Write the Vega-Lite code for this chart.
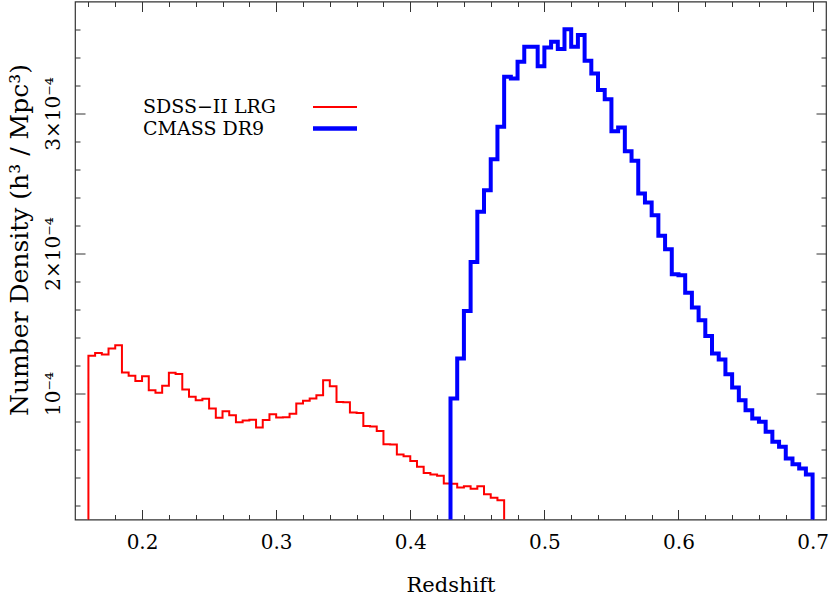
{
  "$schema": "https://vega.github.io/schema/vega-lite/v6.json",
  "width": 751,
  "height": 518,
  "autosize": "none",
  "padding": {"left": 75, "top": 1.5, "right": 4, "bottom": 75.5},
  "background": "white",
  "config": {
    "view": {"stroke": "#333", "strokeWidth": 1.2},
    "axis": {
      "domain": false,
      "grid": false,
      "tickColor": "#333",
      "tickWidth": 1,
      "labelFont": "DejaVu Serif",
      "titleFont": "DejaVu Serif",
      "labelColor": "#000",
      "titleColor": "#000",
      "titleFontWeight": "normal"
    },
    "legend": {
      "orient": "none", "title": null, "symbolType": "stroke", "symbolSize": 1936, "padding": 0,
      "labelFont": "DejaVu Serif", "labelFontSize": 19, "labelColor": "#000", "labelLimit": 400
    }
  },
  "data": {
    "values": [
      {"survey": "SDSS−II LRG", "z": 0.16, "density": 0},
      {"survey": "SDSS−II LRG", "z": 0.160, "density": 1.269e-4},
      {"survey": "SDSS−II LRG", "z": 0.165, "density": 1.290e-4},
      {"survey": "SDSS−II LRG", "z": 0.170, "density": 1.279e-4},
      {"survey": "SDSS−II LRG", "z": 0.175, "density": 1.321e-4},
      {"survey": "SDSS−II LRG", "z": 0.180, "density": 1.345e-4},
      {"survey": "SDSS−II LRG", "z": 0.185, "density": 1.150e-4},
      {"survey": "SDSS−II LRG", "z": 0.190, "density": 1.126e-4},
      {"survey": "SDSS−II LRG", "z": 0.195, "density": 1.090e-4},
      {"survey": "SDSS−II LRG", "z": 0.200, "density": 1.124e-4},
      {"survey": "SDSS−II LRG", "z": 0.205, "density": 1.024e-4},
      {"survey": "SDSS−II LRG", "z": 0.210, "density": 1.005e-4},
      {"survey": "SDSS−II LRG", "z": 0.215, "density": 1.055e-4},
      {"survey": "SDSS−II LRG", "z": 0.220, "density": 1.148e-4},
      {"survey": "SDSS−II LRG", "z": 0.225, "density": 1.140e-4},
      {"survey": "SDSS−II LRG", "z": 0.230, "density": 1.029e-4},
      {"survey": "SDSS−II LRG", "z": 0.235, "density": 0.976e-4},
      {"survey": "SDSS−II LRG", "z": 0.240, "density": 0.952e-4},
      {"survey": "SDSS−II LRG", "z": 0.245, "density": 0.962e-4},
      {"survey": "SDSS−II LRG", "z": 0.250, "density": 0.893e-4},
      {"survey": "SDSS−II LRG", "z": 0.255, "density": 0.826e-4},
      {"survey": "SDSS−II LRG", "z": 0.260, "density": 0.874e-4},
      {"survey": "SDSS−II LRG", "z": 0.265, "density": 0.845e-4},
      {"survey": "SDSS−II LRG", "z": 0.270, "density": 0.795e-4},
      {"survey": "SDSS−II LRG", "z": 0.275, "density": 0.807e-4},
      {"survey": "SDSS−II LRG", "z": 0.280, "density": 0.812e-4},
      {"survey": "SDSS−II LRG", "z": 0.285, "density": 0.757e-4},
      {"survey": "SDSS−II LRG", "z": 0.290, "density": 0.810e-4},
      {"survey": "SDSS−II LRG", "z": 0.295, "density": 0.852e-4},
      {"survey": "SDSS−II LRG", "z": 0.300, "density": 0.829e-4},
      {"survey": "SDSS−II LRG", "z": 0.305, "density": 0.830e-4},
      {"survey": "SDSS−II LRG", "z": 0.310, "density": 0.855e-4},
      {"survey": "SDSS−II LRG", "z": 0.315, "density": 0.929e-4},
      {"survey": "SDSS−II LRG", "z": 0.320, "density": 0.948e-4},
      {"survey": "SDSS−II LRG", "z": 0.325, "density": 0.964e-4},
      {"survey": "SDSS−II LRG", "z": 0.330, "density": 0.988e-4},
      {"survey": "SDSS−II LRG", "z": 0.335, "density": 1.095e-4},
      {"survey": "SDSS−II LRG", "z": 0.340, "density": 1.052e-4},
      {"survey": "SDSS−II LRG", "z": 0.345, "density": 0.940e-4},
      {"survey": "SDSS−II LRG", "z": 0.350, "density": 0.938e-4},
      {"survey": "SDSS−II LRG", "z": 0.355, "density": 0.864e-4},
      {"survey": "SDSS−II LRG", "z": 0.360, "density": 0.860e-4},
      {"survey": "SDSS−II LRG", "z": 0.365, "density": 0.767e-4},
      {"survey": "SDSS−II LRG", "z": 0.370, "density": 0.764e-4},
      {"survey": "SDSS−II LRG", "z": 0.375, "density": 0.733e-4},
      {"survey": "SDSS−II LRG", "z": 0.380, "density": 0.638e-4},
      {"survey": "SDSS−II LRG", "z": 0.385, "density": 0.635e-4},
      {"survey": "SDSS−II LRG", "z": 0.390, "density": 0.564e-4},
      {"survey": "SDSS−II LRG", "z": 0.395, "density": 0.552e-4},
      {"survey": "SDSS−II LRG", "z": 0.400, "density": 0.517e-4},
      {"survey": "SDSS−II LRG", "z": 0.405, "density": 0.476e-4},
      {"survey": "SDSS−II LRG", "z": 0.410, "density": 0.433e-4},
      {"survey": "SDSS−II LRG", "z": 0.415, "density": 0.421e-4},
      {"survey": "SDSS−II LRG", "z": 0.420, "density": 0.412e-4},
      {"survey": "SDSS−II LRG", "z": 0.425, "density": 0.357e-4},
      {"survey": "SDSS−II LRG", "z": 0.430, "density": 0.355e-4},
      {"survey": "SDSS−II LRG", "z": 0.435, "density": 0.329e-4},
      {"survey": "SDSS−II LRG", "z": 0.440, "density": 0.338e-4},
      {"survey": "SDSS−II LRG", "z": 0.445, "density": 0.319e-4},
      {"survey": "SDSS−II LRG", "z": 0.450, "density": 0.338e-4},
      {"survey": "SDSS−II LRG", "z": 0.455, "density": 0.281e-4},
      {"survey": "SDSS−II LRG", "z": 0.460, "density": 0.255e-4},
      {"survey": "SDSS−II LRG", "z": 0.465, "density": 0.238e-4},
      {"survey": "SDSS−II LRG", "z": 0.470, "density": 0},
      {"survey": "CMASS DR9", "z": 0.43, "density": 0},
      {"survey": "CMASS DR9", "z": 0.430, "density": 0.964e-4},
      {"survey": "CMASS DR9", "z": 0.435, "density": 1.250e-4},
      {"survey": "CMASS DR9", "z": 0.440, "density": 1.590e-4},
      {"survey": "CMASS DR9", "z": 0.445, "density": 1.940e-4},
      {"survey": "CMASS DR9", "z": 0.450, "density": 2.298e-4},
      {"survey": "CMASS DR9", "z": 0.455, "density": 2.452e-4},
      {"survey": "CMASS DR9", "z": 0.460, "density": 2.674e-4},
      {"survey": "CMASS DR9", "z": 0.465, "density": 2.905e-4},
      {"survey": "CMASS DR9", "z": 0.470, "density": 3.262e-4},
      {"survey": "CMASS DR9", "z": 0.475, "density": 3.250e-4},
      {"survey": "CMASS DR9", "z": 0.480, "density": 3.369e-4},
      {"survey": "CMASS DR9", "z": 0.485, "density": 3.476e-4},
      {"survey": "CMASS DR9", "z": 0.490, "density": 3.476e-4},
      {"survey": "CMASS DR9", "z": 0.495, "density": 3.338e-4},
      {"survey": "CMASS DR9", "z": 0.500, "density": 3.471e-4},
      {"survey": "CMASS DR9", "z": 0.505, "density": 3.512e-4},
      {"survey": "CMASS DR9", "z": 0.510, "density": 3.460e-4},
      {"survey": "CMASS DR9", "z": 0.515, "density": 3.602e-4},
      {"survey": "CMASS DR9", "z": 0.520, "density": 3.476e-4},
      {"survey": "CMASS DR9", "z": 0.525, "density": 3.560e-4},
      {"survey": "CMASS DR9", "z": 0.530, "density": 3.376e-4},
      {"survey": "CMASS DR9", "z": 0.535, "density": 3.286e-4},
      {"survey": "CMASS DR9", "z": 0.540, "density": 3.167e-4},
      {"survey": "CMASS DR9", "z": 0.545, "density": 3.102e-4},
      {"survey": "CMASS DR9", "z": 0.550, "density": 2.874e-4},
      {"survey": "CMASS DR9", "z": 0.555, "density": 2.900e-4},
      {"survey": "CMASS DR9", "z": 0.560, "density": 2.730e-4},
      {"survey": "CMASS DR9", "z": 0.565, "density": 2.662e-4},
      {"survey": "CMASS DR9", "z": 0.570, "density": 2.429e-4},
      {"survey": "CMASS DR9", "z": 0.575, "density": 2.364e-4},
      {"survey": "CMASS DR9", "z": 0.580, "density": 2.274e-4},
      {"survey": "CMASS DR9", "z": 0.585, "density": 2.126e-4},
      {"survey": "CMASS DR9", "z": 0.590, "density": 2.031e-4},
      {"survey": "CMASS DR9", "z": 0.595, "density": 1.852e-4},
      {"survey": "CMASS DR9", "z": 0.600, "density": 1.845e-4},
      {"survey": "CMASS DR9", "z": 0.605, "density": 1.719e-4},
      {"survey": "CMASS DR9", "z": 0.610, "density": 1.614e-4},
      {"survey": "CMASS DR9", "z": 0.615, "density": 1.524e-4},
      {"survey": "CMASS DR9", "z": 0.620, "density": 1.410e-4},
      {"survey": "CMASS DR9", "z": 0.625, "density": 1.286e-4},
      {"survey": "CMASS DR9", "z": 0.630, "density": 1.243e-4},
      {"survey": "CMASS DR9", "z": 0.635, "density": 1.138e-4},
      {"survey": "CMASS DR9", "z": 0.640, "density": 1.043e-4},
      {"survey": "CMASS DR9", "z": 0.645, "density": 0.952e-4},
      {"survey": "CMASS DR9", "z": 0.650, "density": 0.881e-4},
      {"survey": "CMASS DR9", "z": 0.655, "density": 0.821e-4},
      {"survey": "CMASS DR9", "z": 0.660, "density": 0.798e-4},
      {"survey": "CMASS DR9", "z": 0.665, "density": 0.726e-4},
      {"survey": "CMASS DR9", "z": 0.670, "density": 0.655e-4},
      {"survey": "CMASS DR9", "z": 0.675, "density": 0.619e-4},
      {"survey": "CMASS DR9", "z": 0.680, "density": 0.536e-4},
      {"survey": "CMASS DR9", "z": 0.685, "density": 0.495e-4},
      {"survey": "CMASS DR9", "z": 0.690, "density": 0.464e-4},
      {"survey": "CMASS DR9", "z": 0.695, "density": 0.421e-4},
      {"survey": "CMASS DR9", "z": 0.700, "density": 0}
    ]
  },
  "resolve": {
    "axis": {"x": "independent", "y": "independent"},
    "scale": {"color": "independent"},
    "legend": {"color": "independent"}
  },
  "layer": [
    {
      "transform": [{"filter": "datum.survey === 'SDSS−II LRG'"}],
      "mark": {"type": "line", "interpolate": "step-after", "clip": true, "strokeWidth": 2, "strokeJoin": "miter", "strokeCap": "butt"},
      "encoding": {
        "x": {
          "field": "z", "type": "quantitative",
          "scale": {"domain": [0.15, 0.71], "nice": false, "zero": false},
          "axis": {
            "orient": "bottom", "values": [0.2, 0.3, 0.4, 0.5, 0.6, 0.7],
            "tickSize": -10, "labelPadding": 23, "labelFontSize": 20, "labelBaseline": "top",
            "format": ".1f", "labelFlush": false,
            "title": "Redshift", "titleFontSize": 21, "titleBaseline": "alphabetic",
            "titleX": 375.5, "titleY": 71.5, "titleAlign": "center"
          }
        },
        "y": {
          "field": "density", "type": "quantitative",
          "scale": {"domain": [0.00001, 0.00038], "nice": false, "zero": false},
          "axis": {
            "orient": "left", "values": [0.0001, 0.0002, 0.0003],
            "tickSize": -10, "labelPadding": 26, "labelFontSize": 20,
            "labelAngle": -90, "labelAlign": "center", "labelBaseline": "alphabetic", "labelFlush": false,
            "labelExpr": "datum.value < 0.00015 ? '10⁻⁴' : format(datum.value * 10000, '.0f') + '×10⁻⁴'",
            "title": "Number Density (h³ / Mpc³)", "titleFontSize": 25, "titleAngle": -90,
            "titleAlign": "center", "titleBaseline": "alphabetic", "titleX": -48, "titleY": 238
          }
        },
        "color": {
          "field": "survey", "type": "nominal",
          "scale": {"domain": ["SDSS−II LRG"], "range": ["#ff0000"]},
          "legend": {
            "legendX": 68, "legendY": 82.5, "symbolStrokeWidth": 2,
            "encode": {
              "symbols": {"update": {"x": {"value": 192}}},
              "labels": {"update": {"x": {"value": 0}}}
            }
          }
        }
      }
    },
    {
      "transform": [{"filter": "datum.survey === 'CMASS DR9'"}],
      "mark": {"type": "line", "interpolate": "step-after", "clip": true, "strokeWidth": 4, "strokeJoin": "miter", "strokeCap": "butt"},
      "encoding": {
        "x": {"field": "z", "type": "quantitative", "axis": null},
        "y": {"field": "density", "type": "quantitative", "axis": null},
        "color": {
          "field": "survey", "type": "nominal",
          "scale": {"domain": ["CMASS DR9"], "range": ["#0000ff"]},
          "legend": {
            "legendX": 68, "legendY": 102.5, "symbolStrokeWidth": 4.5,
            "encode": {
              "symbols": {"update": {"x": {"value": 192}}},
              "labels": {"update": {"x": {"value": 0}}}
            }
          }
        }
      }
    },
    {
      "mark": {"type": "line", "strokeOpacity": 0},
      "encoding": {
        "x": {"field": "z", "type": "quantitative",
          "axis": {"orient": "top", "values": [0.2, 0.3, 0.4, 0.5, 0.6, 0.7], "tickSize": -10, "labels": false, "title": null}},
        "y": {"field": "density", "type": "quantitative",
          "axis": {"orient": "right", "values": [0.0001, 0.0002, 0.0003], "tickSize": -10, "labels": false, "title": null}}
      }
    },
    {
      "mark": {"type": "line", "strokeOpacity": 0},
      "encoding": {
        "x": {"field": "z", "type": "quantitative",
          "axis": {"orient": "bottom", "values": [0.16, 0.18, 0.22, 0.24, 0.26, 0.28, 0.32, 0.34, 0.36, 0.38, 0.42, 0.44, 0.46, 0.48, 0.52, 0.54, 0.56, 0.58, 0.62, 0.64, 0.66, 0.68], "tickSize": -5, "labels": false, "title": null}},
        "y": {"field": "density", "type": "quantitative",
          "axis": {"orient": "left", "values": [0.00002, 0.00004, 0.00006, 0.00008, 0.00012, 0.00014, 0.00016, 0.00018, 0.00022, 0.00024, 0.00026, 0.00028, 0.00032, 0.00034, 0.00036], "tickSize": -5, "labels": false, "title": null}}
      }
    },
    {
      "mark": {"type": "line", "strokeOpacity": 0},
      "encoding": {
        "x": {"field": "z", "type": "quantitative",
          "axis": {"orient": "top", "values": [0.16, 0.18, 0.22, 0.24, 0.26, 0.28, 0.32, 0.34, 0.36, 0.38, 0.42, 0.44, 0.46, 0.48, 0.52, 0.54, 0.56, 0.58, 0.62, 0.64, 0.66, 0.68], "tickSize": -5, "labels": false, "title": null}},
        "y": {"field": "density", "type": "quantitative",
          "axis": {"orient": "right", "values": [0.00002, 0.00004, 0.00006, 0.00008, 0.00012, 0.00014, 0.00016, 0.00018, 0.00022, 0.00024, 0.00026, 0.00028, 0.00032, 0.00034, 0.00036], "tickSize": -5, "labels": false, "title": null}}
      }
    }
  ]
}
